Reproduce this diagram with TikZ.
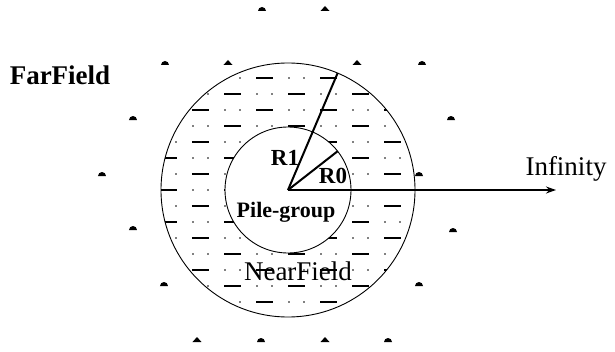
\documentclass[tikz,border=0pt]{standalone}
\usepackage{fontspec}
\setmainfont{Liberation Serif}
\usepackage{tikz}
\usetikzlibrary{arrows.meta,positioning}

\newcommand{\pxfont}[1]{\fontsize{#1}{#1}\selectfont}

\begin{document}
\begin{tikzpicture}[x=1pt,y=1pt,
    ring/.style={line width=0.9pt},
    radline/.style={line width=2pt},
    hatchdash/.style={line width=1.6pt},
    fieldtext/.style={anchor=base,inner sep=0pt,font=\pxfont{27}},
    radtext/.style={anchor=base,inner sep=0pt,font=\pxfont{23}\bfseries}]
  \useasboundingbox (-288,-161) rectangle (327,190);

  \coordinate (O) at (0,0);
  \coordinate (r1end) at (67:127);
  \coordinate (r0end) at (38:63);
  \coordinate (inf) at (268,0);

  % hatching of the near field ring
  \begin{scope}[even odd rule]
    \clip (O) circle (127) (O) circle (63);
    \foreach \k in {-7,...,7}{
      \pgfmathsetmacro\sh{mod(abs(\k),2)*32}
      \foreach \n in {-3,...,3}{
        \draw[hatchdash] ({64*\n-\sh},{-16*\k}) -- ++(17,0);
        \fill ({64*\n-\sh+33},{-16*\k}) circle (0.9);
        \fill ({64*\n-\sh+48},{-16*\k}) circle (0.9);
      }
    }
  \end{scope}

  \draw[ring] (O) circle (127);
  \draw[ring] (O) circle (63);

  % radii and direction to infinity
  \draw[radline] (O) -- (r1end);
  \draw[radline] (O) -- (r0end);
  \draw[line width=1.3pt,-{Stealth[length=10pt,width=7pt]}] (O) -- (inf);

  % far field markers
  \foreach \x/\y in {37/179,-60/125,69/125,-91/-152,37/-152}
    \fill (\x-4.5,\y) -- (\x+4.5,\y) -- (\x,\y+5) -- cycle;
  \foreach \x/\y in {-26/179,-123/125,134/125,-155/70,163/70,-186/14,131/14,
                     -155/-40,165/-42,-124/-96,131/-96,-27/-152,100/-152}
    \fill (\x-4,\y) arc (180:0:4) -- cycle;

  \node[fieldtext,font=\pxfont{27}\bfseries] (far) at (-228,105) {FarField};
  \node[fieldtext] (infty) at (278,15) {Infinity};
  \node[fieldtext] (near) at (10,-90) {NearField};
  \node[radtext] (r1) at (-3,25) {R1};
  \node[radtext] (r0) at (45,7) {R0};
  \node[radtext,font=\pxfont{22}\bfseries] (pile) at (-2,-27) {Pile-group};
\end{tikzpicture}
\end{document}
